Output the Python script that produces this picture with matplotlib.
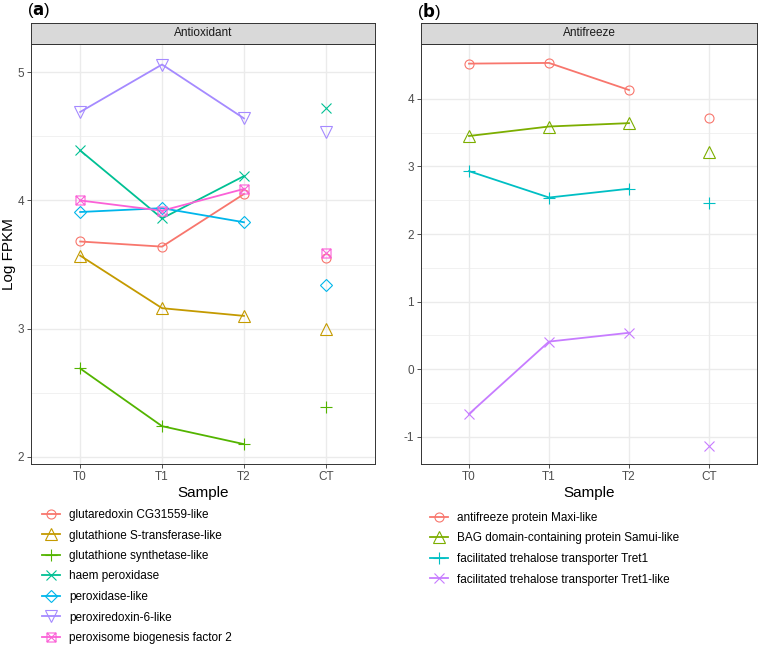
import numpy as np
import matplotlib.pyplot as plt
from matplotlib.path import Path

plt.rcParams['font.family'] = ['Liberation Sans', 'DejaVu Sans']
plt.rcParams['axes.unicode_minus'] = False

# Datos
muestras = ['T0', 'T1', 'T2', 'CT']

genes_a = ['glutaredoxin CG31559-like', 'glutathione S-transferase-like',
           'glutathione synthetase-like', 'haem peroxidase', 'peroxidase-like',
           'peroxiredoxin-6-like', 'peroxisome biogenesis factor 2']
glutaredoxin = [3.68, 3.64, 4.05, 3.55]
gst = [3.57, 3.16, 3.10, 3.00]
gsynth = [2.69, 2.24, 2.10, 2.39]
haem = [4.39, 3.86, 4.19, 4.72]
peroxidase = [3.91, 3.94, 3.83, 3.34]
peroxiredoxin = [4.69, 5.06, 4.64, 4.53]
peroxisome = [4.00, 3.92, 4.09, 3.59]

genes_b = ['antifreeze protein Maxi-like', 'BAG domain-containing protein Samui-like',
           'facilitated trehalose transporter Tret1',
           'facilitated trehalose transporter Tret1-like']
maxi = [4.52, 4.53, 4.13, 3.71]
bag = [3.45, 3.59, 3.64, 3.21]
tret1 = [2.93, 2.54, 2.67, 2.46]
tret1_like = [-0.66, 0.41, 0.54, -1.13]

# Estilos tipo ggplot
cuadro_x = Path([(-1, -1), (1, -1), (1, 1), (-1, 1), (-1, -1),
                 (-1, -1), (1, 1), (-1, 1), (1, -1)],
                [Path.MOVETO, Path.LINETO, Path.LINETO, Path.LINETO, Path.CLOSEPOLY,
                 Path.MOVETO, Path.LINETO, Path.MOVETO, Path.LINETO])
colores_a = ['#F8766D', '#C49A00', '#53B400', '#00C094', '#00B6EB', '#A58AFF', '#FB61D7']
marcas_a = ['o', '^', '+', 'x', 'D', 'v', cuadro_x]
tam_a = [6.5, 8, 9, 7.5, 6.5, 8, 6.5]
colores_b = ['#F8766D', '#7CAE00', '#00BFC4', '#C77CFF']
marcas_b = ['o', '^', '+', 'x']
tam_b = [6.5, 8, 9, 7.5]

fig = plt.figure(figsize=(7.6, 6.46), dpi=100)


def panel(rect, titulo, letra, series, nombres, colores, marcas, tams, ylim, yticks, minor,
          leg_pos):
    ax = fig.add_axes(rect)
    x = np.arange(len(muestras))
    handles = []
    for vals, nom, c, m, s in zip(series, nombres, colores, marcas, tams):
        ax.plot(x[:3], vals[:3], color=c, lw=1.3, zorder=2)
        ax.plot(x, vals, ls='none', marker=m, ms=s, mfc='none', mec=c, mew=0.8, zorder=3)
        h, = ax.plot([], [], color=c, lw=1.3, marker=m, ms=s, mfc='none', mec=c, mew=0.8)
        handles.append(h)
    ax.set_xlim(-0.6, 3.6)
    ax.set_ylim(*ylim)
    ax.set_xticks(x)
    ax.set_xticklabels(muestras)
    ax.set_yticks(yticks)
    ax.set_yticks(minor, minor=True)
    ax.grid(True, which='major', color='#EBEBEB', lw=1.0, zorder=0)
    ax.grid(True, which='minor', axis='y', color='#EBEBEB', lw=0.5, zorder=0)
    ax.set_axisbelow(True)
    ax.tick_params(which='major', length=3, width=0.6, color='#333333',
                   labelsize=8.5, labelcolor='#4D4D4D', pad=2)
    ax.tick_params(which='minor', length=0)
    for sp in ax.spines.values():
        sp.set_color('#333333')
        sp.set_linewidth(0.7)
    ax.set_xlabel('Sample', fontsize=11, labelpad=2)

    # Tira del facet
    pos = ax.get_position()
    strip = fig.add_axes([pos.x0, pos.y1, pos.width, 21 / 646])
    strip.set_facecolor('#D9D9D9')
    strip.set_xticks([])
    strip.set_yticks([])
    for sp in strip.spines.values():
        sp.set_color('#333333')
        sp.set_linewidth(0.7)
    strip.text(0.5, 0.5, titulo, ha='center', va='center', fontsize=8.5, color='#1A1A1A')

    fig.text(pos.x0 - 4 / 760, 1 - 11 / 646, r'($\mathbf{' + letra + '}$)', fontsize=12,
             ha='left', va='center')

    ax.legend(handles, nombres, loc='upper left', bbox_to_anchor=leg_pos,
              bbox_transform=fig.transFigure, frameon=False, fontsize=8.5,
              handlelength=1.5, handletextpad=0.8, labelspacing=0.72, borderpad=0,
              borderaxespad=0)
    return ax


ax_a = panel([31 / 760, 1 - 464 / 646, 344 / 760, 420 / 646], 'Antioxidant', 'a',
             [glutaredoxin, gst, gsynth, haem, peroxidase, peroxiredoxin, peroxisome],
             genes_a, colores_a, marcas_a, tam_a, (1.945, 5.22), [2, 3, 4, 5],
             [2.5, 3.5, 4.5], (42 / 760, 1 - 509 / 646))
fig.text(9 / 760, 1 - 254 / 646, 'Log FPKM', rotation=90, fontsize=11,
         ha='center', va='center')

ax_b = panel([421 / 760, 1 - 464 / 646, 336 / 760, 420 / 646], 'Antifreeze', 'b',
             [maxi, bag, tret1, tret1_like], genes_b, colores_b, marcas_b, tam_b,
             (-1.4, 4.81), [-1, 0, 1, 2, 3, 4], [-0.5, 0.5, 1.5, 2.5, 3.5],
             (430 / 760, 1 - 512 / 646))

fig.savefig('out.png', dpi=100)
